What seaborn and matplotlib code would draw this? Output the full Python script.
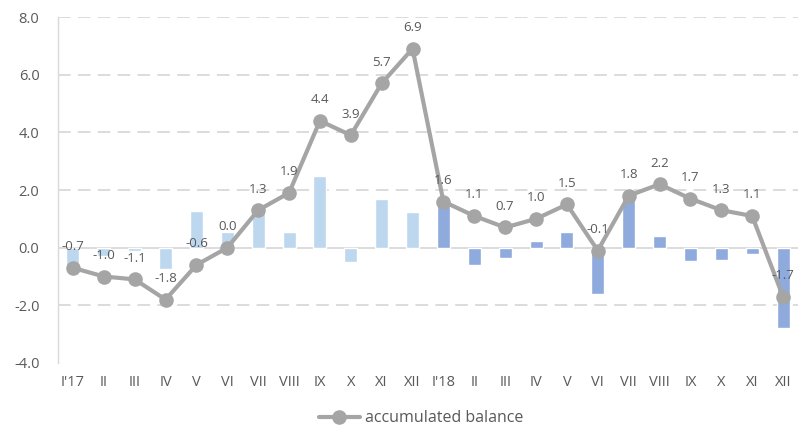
import matplotlib
matplotlib.use("Agg")
import matplotlib.pyplot as plt
import seaborn as sns
import pandas as pd
import numpy as np

months = ["I'17", "II", "III", "IV", "V", "VI", "VII", "VIII", "IX", "X", "XI", "XII",
          "I'18", "II", "III", "IV", "V", "VI", "VII", "VIII", "IX", "X", "XI", "XII"]
year = ["2017"] * 12 + ["2018"] * 12
monthly = [-0.7, -0.3, -0.1, -0.75, 1.27, 0.55, 1.3, 0.55, 2.5, -0.5, 1.7, 1.22,
           1.62, -0.6, -0.36, 0.23, 0.53, -1.6, 1.8, 0.4, -0.47, -0.42, -0.22, -2.8]
accumulated = [-0.7, -1.0, -1.1, -1.8, -0.6, 0.0, 1.3, 1.9, 4.4, 3.9, 5.7, 6.9,
               1.6, 1.1, 0.7, 1.0, 1.5, -0.1, 1.8, 2.2, 1.7, 1.3, 1.1, -1.7]
yticks = [-4.0, -2.0, 0.0, 2.0, 4.0, 6.0, 8.0]

sns.set_theme(style="white")
plt.rcParams['font.family'] = ['Open Sans', 'DejaVu Sans']

pos = list(range(len(months)))
df = pd.DataFrame({"pos": pos, "monthly": monthly, "year": year, "acc": accumulated})

fig = plt.figure(figsize=(8.02, 4.34), dpi=100)
ax = fig.add_axes([0.0717, 0.1636, 0.9239, 0.7972])

txt = "#595959"
grid = "#D9D9D9"

sns.barplot(data=df, x="pos", y="monthly", hue="year", dodge=False, width=0.42,
            palette={"2017": "#BDD7EE", "2018": "#8FAADC"}, saturation=1,
            ax=ax, legend=False, order=pos, zorder=2)

sns.lineplot(data=df, x="pos", y="acc", color="#A5A5A5", lw=3, marker="o",
             markersize=10.5, markeredgewidth=0, ax=ax, label="accumulated balance",
             zorder=4)

for x, v in zip(pos, accumulated):
    ax.annotate(f"{v:.1f}", (x, v), xytext=(0, 10.5), textcoords="offset points",
                ha="center", va="bottom", fontsize=9.5, color=txt, zorder=5)

ax.set_ylim(-4, 8)
ax.set_xlim(-0.5, len(months) - 0.5)
ax.set_yticks(yticks)
ax.set_yticklabels([f"{t:.1f}" for t in yticks], fontsize=10.5, color=txt)
for t in yticks:
    if t != 0 and t != -4:
        ax.axhline(t, color=grid, lw=1.3, ls=(0, (7, 4)), zorder=0)
ax.axhline(0, color=grid, lw=1.3, zorder=1)

ax.set_xlabel("")
ax.set_ylabel("")
for s in ["top", "right"]:
    ax.spines[s].set_visible(False)
ax.spines["left"].set_color(grid)
ax.spines["left"].set_linewidth(1.0)
ax.spines["bottom"].set_position(("data", 0))
ax.spines["bottom"].set_visible(False)

ax.set_xticks(pos)
ax.set_xticklabels(months, fontsize=10.5, color=txt)
ax.set_xticks(np.arange(-0.5, len(months), 1.0), minor=True)
ax.tick_params(axis="x", which="major", length=0, pad=92)
ax.tick_params(axis="x", which="minor", length=4, color=grid, width=1, direction="out")
ax.tick_params(axis="y", length=5, color=grid, width=1, direction="out", pad=8)

ax.get_legend().remove()
h, l = ax.get_legend_handles_labels()
fig.legend(h, l, loc="lower center", bbox_to_anchor=(0.525, -0.015), frameon=False,
           fontsize=11.5, labelcolor=txt, handlelength=2.6, handletextpad=0.3)

fig.savefig("out.png", dpi=100)
